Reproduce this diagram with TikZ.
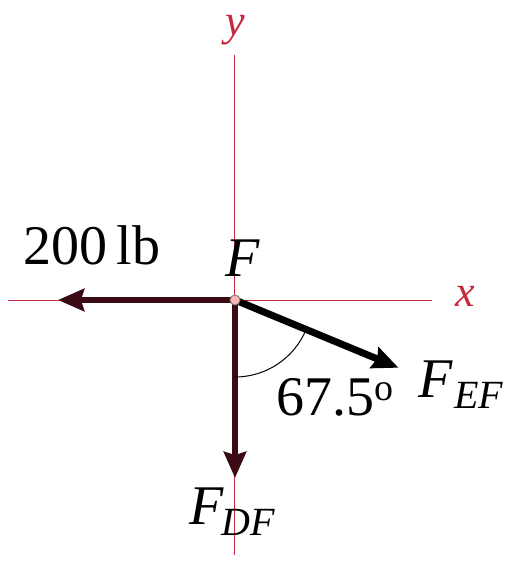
\documentclass[tikz,border=0pt]{standalone}
\usepackage{fontspec}
\setmainfont{Liberation Serif}
\usetikzlibrary{arrows.meta}

\definecolor{axisred}{RGB}{200,40,60}
\definecolor{forcedark}{RGB}{60,10,18}

\tikzset{
  axis/.style={axisred, line width=1pt},
  force/.style={line width=6pt, -{Stealth[length=26pt,width=22pt,inset=3pt]}},
  lbl/.style={inner sep=0pt, font=\fontsize{56}{56}\selectfont},
  axlbl/.style={inner sep=0pt, axisred, font=\fontsize{44}{44}\selectfont\itshape},
}

\begin{document}
\begin{tikzpicture}[x=1pt, y=1pt]
  \useasboundingbox (-235,-276) rectangle (277,300);
  \coordinate (F) at (0,0);
  \coordinate (ytop) at (0,245);
  \coordinate (ybot) at (0,-255);
  \coordinate (xleft) at (-227,0);
  \coordinate (xright) at (197,0);
  \coordinate (pW) at (-177,0);
  \coordinate (pDF) at (0,-178);
  \coordinate (pEF) at (-22.5:177);
  % axes
  \draw[axis] (ybot) -- (ytop);
  \draw[axis] (xleft) -- (xright);
  \node[axlbl] (ylab) at (0,270) {y};
  \node[axlbl] (xlab) at (230,4) {x};
  % forces
  \draw[force, forcedark] (F) -- (pW);
  \draw[force, forcedark] (F) -- (pDF);
  \draw[force, black, line width=7pt] (F) -- (pEF);
  \draw[line width=1pt] (0,-77) arc[start angle=-90, end angle=-22.5, radius=77];
  \filldraw[fill=pink!70!red!60, draw=gray, line width=1pt] (F) circle (5);
  % labels
  \node[lbl] (wlab) at (-143,55) {200\,lb};
  \node[lbl] (Flab) at (8,42) {\itshape F};
  \node[lbl] (EFlab) at (226,-85) {\itshape F\kern1pt\raisebox{-11pt}{\fontsize{40}{40}\selectfont EF}};
  \node[lbl] (anglab) at (100,-97) {67.5\raisebox{15pt}{\fontsize{38}{38}\selectfont o}};
  \node[lbl] (DFlab) at (-3,-212) {\itshape F\kern-2pt\raisebox{-11pt}{\fontsize{40}{40}\selectfont DF}};
\end{tikzpicture}
\end{document}
